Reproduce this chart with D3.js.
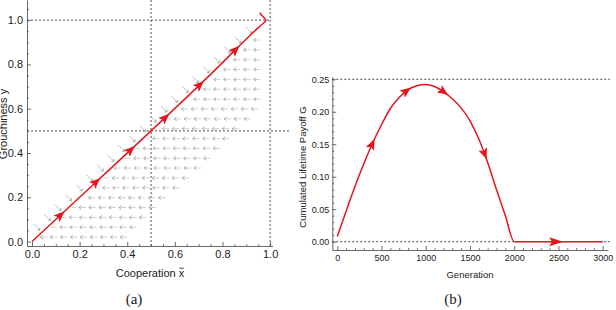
<!DOCTYPE html>
<html>
<head>
<meta charset="utf-8">
<script src="https://cdn.jsdelivr.net/npm/d3@7"></script>
<style>
body { margin: 0; background: #fff; }
svg { display: block; font-family: Arial, "Liberation Sans", Helvetica, sans-serif; }
</style>
</head>
<body>
<svg id="chart" width="616" height="310"></svg>
<script>
// panel (a): trajectory in the cooperation / grouchiness plane
var trajX = [0, 0.25, 0.5, 0.75, 0.9, 0.96, 0.982, 0.975, 0.964, 0.957];
var trajY = [0, 0.25, 0.5, 0.755, 0.915, 0.976, 0.998, 1.011, 1.022, 1.034];
var trajArrows = [0.12, 0.27, 0.415, 0.56, 0.705, 0.855];
var fieldRowY = [0.02, 0.065, 0.109, 0.154, 0.198, 0.243, 0.287, 0.332, 0.376, 0.421, 0.465,
                 0.51, 0.554, 0.599, 0.643, 0.688, 0.732, 0.777, 0.821, 0.866, 0.91, 0.955];
var fieldRowEnd = [0.40, 0.44, 0.48, 0.52, 0.56, 0.62, 0.66, 0.71, 0.75, 0.79, 0.83,
                   0.87, 0.92, 0.95, 0.96, 0.96, 0.96, 0.96, 0.96, 0.96, 0.96, 0.96];
var ticksA = [0, 0.2, 0.4, 0.6, 0.8, 1.0];
var minorA = [0.05, 0.1, 0.15, 0.25, 0.3, 0.35, 0.45, 0.5, 0.55, 0.65, 0.7, 0.75, 0.85, 0.9, 0.95];
var minorAy = minorA.concat([1.05]);

// panel (b): cumulated lifetime payoff over generations
var generation = [0, 100, 200, 300, 400, 500, 600, 700, 800, 900, 1000, 1100, 1200, 1300,
                  1400, 1500, 1600, 1700, 1800, 1900, 2000, 2500, 3000];
var payoff = [0.008, 0.047, 0.085, 0.120, 0.152, 0.180, 0.205, 0.222, 0.234, 0.240, 0.242, 0.239,
              0.231, 0.220, 0.206, 0.186, 0.158, 0.122, 0.080, 0.040, 0.0, 0.0, 0.0];
var payoffArrows = [395, 783, 1203, 1666, 2474];
var genTicks = [0, 500, 1000, 1500, 2000, 2500, 3000];
var payoffTicks = [0, 0.05, 0.10, 0.15, 0.20, 0.25];

var red = '#e3171d';
var axisColor = '#444';
var sansFont = 'Arial, "Liberation Sans", Helvetica, sans-serif';
var svg = d3.select('#chart');

function styleAxis(g, fs) {
    g.select('.domain').attr('stroke', axisColor).attr('stroke-width', 0.8);
    g.selectAll('.tick line').attr('stroke', axisColor).attr('stroke-width', 0.8);
    g.selectAll('.tick text').attr('fill', '#222').attr('font-size', fs)
        .attr('font-family', sansFont);
    g.attr('font-family', null).attr('font-size', null);
}

function minorTicks(g, axis, vals) {
    var m = g.append('g').call(axis.tickValues(vals).tickSize(-2).tickFormat(''));
    m.select('.domain').remove();
    m.selectAll('.tick line').attr('stroke', axisColor).attr('stroke-width', 0.7);
}

function dashed(g, x1, y1, x2, y2) {
    g.append('line').attr('x1', x1).attr('y1', y1).attr('x2', x2).attr('y2', y2)
        .attr('stroke', '#222').attr('stroke-width', 0.8).attr('stroke-dasharray', '2,2');
}

function arrowHead(g, x, y, ang, len, w) {
    g.append('path')
        .attr('d', 'M0,0L' + (-len) + ',' + (-w) + 'L' + (-len * 0.8) + ',0L' + (-len) + ',' + w + 'Z')
        .attr('transform', 'translate(' + x + ',' + y + ') rotate(' + ang + ')')
        .attr('fill', red);
}

// find a point on a path (x increasing) at a given pixel x
function pointAtX(node, px, maxLen) {
    var lo = 0, hi = maxLen;
    for (var i = 0; i < 40; i++) {
        var mid = (lo + hi) / 2;
        if (node.getPointAtLength(mid).x < px) lo = mid; else hi = mid;
    }
    var p0 = node.getPointAtLength(Math.max(lo - 1.5, 0));
    var p1 = node.getPointAtLength(lo + 1.5);
    var p = node.getPointAtLength(lo);
    return { x: p.x, y: p.y, ang: Math.atan2(p1.y - p0.y, p1.x - p0.x) * 180 / Math.PI };
}

// ---------- panel (a)
var gA = svg.append('g');
var xA = d3.scaleLinear().domain([-0.021, 1.01]).range([27, 272.5]);
var yA = d3.scaleLinear().domain([-0.02, 1.091]).range([246, 0]);

dashed(gA, 27, yA(0.5), 290, yA(0.5));
dashed(gA, 27, yA(1), xA(1), yA(1));
dashed(gA, xA(0.5), 246, xA(0.5), 0);
dashed(gA, xA(1), 246, xA(1), 0);

// gray direction field
var field = gA.append('g');
fieldRowY.forEach(function(ry, i) {
    var yp = yA(ry);
    var x0 = xA(ry + 0.012), x1 = xA(fieldRowEnd[i]);
    for (var hx = x1 - 7; hx > x0 - 3; hx -= 10) {
        var sx = Math.max(hx, x0);
        field.append('line').attr('x1', sx).attr('x2', hx + 7).attr('y1', yp).attr('y2', yp)
            .attr('stroke', '#c6c6c6').attr('stroke-width', 0.8);
        if (hx >= x0) {
            field.append('path')
                .attr('d', 'M' + (hx + 2.5) + ',' + (yp - 1.8) + 'L' + hx + ',' + yp + 'L' + (hx + 2.5) + ',' + (yp + 1.8))
                .attr('fill', 'none').attr('stroke', '#9a9a9a').attr('stroke-width', 0.8);
        }
    }
    var dx = ry - 0.045;
    if (dx > 0) {
        var cx = xA(dx), cy = yp;
        field.append('line').attr('x1', cx - 3).attr('y1', cy - 3).attr('x2', cx + 3).attr('y2', cy + 3)
            .attr('stroke', '#b8b8b8').attr('stroke-width', 0.9);
        field.append('path')
            .attr('d', 'M' + (cx + 0.5) + ',' + (cy + 3) + 'L' + (cx + 3) + ',' + (cy + 3) + 'L' + (cx + 3) + ',' + (cy + 0.5))
            .attr('fill', 'none').attr('stroke', '#9a9a9a').attr('stroke-width', 0.8);
    }
});

var axA = d3.axisBottom(xA).tickValues(ticksA).tickSize(-4).tickSizeOuter(0).tickPadding(4)
    .tickFormat(d3.format('.1f'));
var gAx = gA.append('g').attr('transform', 'translate(0,246)').call(axA);
styleAxis(gAx, 11);
minorTicks(gAx, d3.axisBottom(xA), minorA);

var ayA = d3.axisLeft(yA).tickValues(ticksA).tickSize(-4).tickSizeOuter(0).tickPadding(4)
    .tickFormat(d3.format('.1f'));
var gAy = gA.append('g').attr('transform', 'translate(27,0)').call(ayA);
styleAxis(gAy, 11);
minorTicks(gAy, d3.axisLeft(yA), minorAy);

var traj = trajX.map(function(v, i) { return [v, trajY[i]]; });
var lineA = d3.line().x(function(d) { return xA(d[0]); }).y(function(d) { return yA(d[1]); })
    .curve(d3.curveCatmullRom.alpha(0.5));
var pathA = gA.append('path').attr('d', lineA(traj)).attr('fill', 'none')
    .attr('stroke', red).attr('stroke-width', 1.5);
var lenA = pathA.node().getTotalLength();
trajArrows.forEach(function(v) {
    var p = pointAtX(pathA.node(), xA(v), lenA * 0.9);
    var a = p.ang * Math.PI / 180;
    arrowHead(gA, p.x + 5.5 * Math.cos(a), p.y + 5.5 * Math.sin(a), p.ang, 11, 4.5);
});

var labA = gA.append('text').attr('x', 150).attr('y', 277).attr('text-anchor', 'middle')
    .attr('font-size', 11).attr('fill', '#222');
labA.append('tspan').text('Cooperation ');
labA.append('tspan').text('x');
var ext = labA.node().getExtentOfChar(12);
gA.append('line').attr('x1', ext.x + 0.5).attr('x2', ext.x + ext.width - 0.2)
    .attr('y1', ext.y + 1.2).attr('y2', ext.y + 1.2).attr('stroke', '#222').attr('stroke-width', 0.8);

gA.append('text').attr('transform', 'translate(7,124) rotate(-90)').attr('text-anchor', 'middle')
    .attr('font-size', 11).attr('fill', '#222').text('Grouchiness y');

gA.append('text').attr('x', 134).attr('y', 304).attr('text-anchor', 'middle')
    .attr('font-family', '"Liberation Serif", "Times New Roman", serif').attr('font-size', 15)
    .attr('fill', '#222').text('(a)');

// ---------- panel (b)
var gB = svg.append('g');
var xB = d3.scaleLinear().domain([-56, 3060]).range([332.3, 608]);
var yB = d3.scaleLinear().domain([-0.0128, 0.254]).range([250, 76.7]);

dashed(gB, 332.3, yB(0.25), 610, yB(0.25));
dashed(gB, 332.3, yB(0), 610, yB(0));

var axB = d3.axisBottom(xB).tickValues(genTicks).tickSize(-4).tickSizeOuter(0).tickPadding(5)
    .tickFormat(d3.format('d'));
var gBx = gB.append('g').attr('transform', 'translate(0,250)').call(axB);
styleAxis(gBx, 9);
minorTicks(gBx, d3.axisBottom(xB), d3.range(100, 3001, 100).filter(function(v) { return v % 500 !== 0; }));

var ayB = d3.axisLeft(yB).tickValues(payoffTicks).tickSize(-4).tickSizeOuter(0).tickPadding(3)
    .tickFormat(d3.format('.2f'));
var gBy = gB.append('g').attr('transform', 'translate(332.3,0)').call(ayB);
styleAxis(gBy, 9);
minorTicks(gBy, d3.axisLeft(yB), d3.range(1, 26).filter(function(v) { return v % 5 !== 0; })
    .map(function(v) { return v / 100; }));

var series = generation.map(function(g, i) { return [g, payoff[i]]; });
var lineB = d3.line().x(function(d) { return xB(d[0]); }).y(function(d) { return yB(d[1]); })
    .curve(d3.curveMonotoneX);
var pathB = gB.append('path').attr('d', lineB(series)).attr('fill', 'none')
    .attr('stroke', red).attr('stroke-width', 1.5);
var lenB = pathB.node().getTotalLength();
payoffArrows.forEach(function(v, i) {
    var p = pointAtX(pathB.node(), xB(v), lenB);
    var big = i === payoffArrows.length - 1;
    var sh = big ? 7 : 5.5;
    var a = p.ang * Math.PI / 180;
    arrowHead(gB, p.x + sh * Math.cos(a), p.y + sh * Math.sin(a), p.ang, big ? 14 : 11, 4.5);
});

gB.append('text').attr('x', 470).attr('y', 278).attr('text-anchor', 'middle')
    .attr('font-size', 9.5).attr('fill', '#222').text('Generation');
gB.append('text').attr('transform', 'translate(306,167) rotate(-90)').attr('text-anchor', 'middle')
    .attr('font-size', 9.5).attr('fill', '#222').text('Cumulated Lifetime Payoff G');
gB.append('text').attr('x', 453).attr('y', 304).attr('text-anchor', 'middle')
    .attr('font-family', '"Liberation Serif", "Times New Roman", serif').attr('font-size', 15)
    .attr('fill', '#222').text('(b)');
</script>
</body>
</html>
